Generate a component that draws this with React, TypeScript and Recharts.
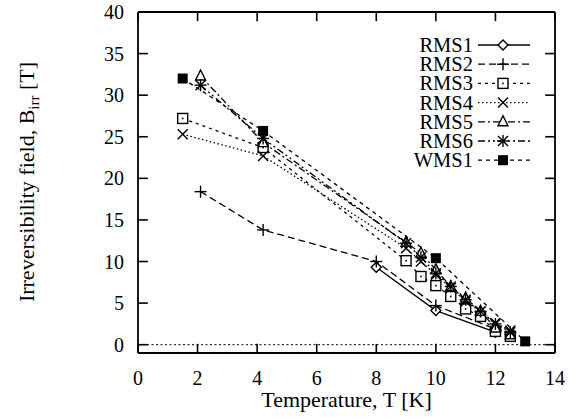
import React from 'react'
import {
  LineChart,
  Line,
  XAxis,
  YAxis,
  ReferenceLine,
  Legend
} from 'recharts'

// temperature (K) / irreversibility field (T)
const rms1T = [8, 10, 12]
const rms1B = [9.3, 4.1, 1.5]
const rms2T = [2.1, 4.2, 8, 10, 12]
const rms2B = [18.4, 13.8, 10.0, 4.7, 1.9]
const rms3T = [1.5, 4.2, 9, 9.5, 10, 10.5, 11, 11.5, 12, 12.5]
const rms3B = [27.2, 23.7, 10.1, 8.2, 7.1, 5.8, 4.3, 3.4, 1.6, 1.0]
const rms4T = [1.5, 4.2, 9, 9.5, 10, 10.5, 11, 11.5, 12, 12.5]
const rms4B = [25.3, 22.7, 11.6, 10.0, 8.4, 6.8, 5.2, 4.0, 2.6, 1.7]
const rms5T = [2.1, 4.2, 9, 9.5, 10, 10.5, 11, 11.5, 12, 12.5]
const rms5B = [32.3, 24.3, 12.3, 11.0, 9.0, 7.0, 5.6, 4.0, 2.0, 1.2]
const rms6T = [2.1, 4.2, 9, 9.5, 10, 10.5, 11, 11.5, 12, 12.5]
const rms6B = [31.2, 24.8, 12.2, 10.5, 8.6, 7.0, 5.4, 4.0, 2.5, 1.5]
const wms1T = [1.5, 4.2, 10, 13]
const wms1B = [32.0, 25.7, 10.4, 0.4]

const xTicks = [0, 2, 4, 6, 8, 10, 12, 14]
const yTicks = [0, 5, 10, 15, 20, 25, 30, 35, 40]

const FONT = '"Liberation Serif", "Times New Roman", serif'

type Shape = 'diamond' | 'plus' | 'square' | 'cross' | 'triangle' | 'star' | 'filled'

const zip = (ts: number[], bs: number[]) => ts.map((t, i) => ({ t, b: bs[i] }))

const series: { name: string; data: { t: number; b: number }[]; dash?: string; shape: Shape }[] = [
  { name: 'RMS1', data: zip(rms1T, rms1B), shape: 'diamond' },
  { name: 'RMS2', data: zip(rms2T, rms2B), dash: '7 4', shape: 'plus' },
  { name: 'RMS3', data: zip(rms3T, rms3B), dash: '3 4', shape: 'square' },
  { name: 'RMS4', data: zip(rms4T, rms4B), dash: '1.5 2.5', shape: 'cross' },
  { name: 'RMS5', data: zip(rms5T, rms5B), dash: '7 3 2 3', shape: 'triangle' },
  { name: 'RMS6', data: zip(rms6T, rms6B), dash: '7 3 2 3 2 3', shape: 'star' },
  { name: 'WMS1', data: zip(wms1T, wms1B), dash: '4 4', shape: 'filled' }
]

function Marker({ shape, cx, cy }: { shape: Shape; cx: number; cy: number }) {
  const s = 5
  const st = { stroke: '#000', strokeWidth: 1.4 }
  switch (shape) {
    case 'diamond':
      return <polygon points={`${cx},${cy - s} ${cx + s},${cy} ${cx},${cy + s} ${cx - s},${cy}`} fill="#fff" {...st} />
    case 'plus':
      return (
        <g {...st}>
          <line x1={cx - s - 1} y1={cy} x2={cx + s + 1} y2={cy} />
          <line x1={cx} y1={cy - s - 1} x2={cx} y2={cy + s + 1} />
        </g>
      )
    case 'square':
      return (
        <g>
          <rect x={cx - s} y={cy - s} width={2 * s} height={2 * s} fill="#fff" {...st} />
          <rect x={cx - 0.8} y={cy - 0.8} width={1.6} height={1.6} fill="#000" />
        </g>
      )
    case 'cross':
      return (
        <g {...st}>
          <line x1={cx - s} y1={cy - s} x2={cx + s} y2={cy + s} />
          <line x1={cx - s} y1={cy + s} x2={cx + s} y2={cy - s} />
        </g>
      )
    case 'triangle':
      return <polygon points={`${cx},${cy - s - 1} ${cx + s},${cy + s - 1} ${cx - s},${cy + s - 1}`} fill="#fff" {...st} />
    case 'star':
      return (
        <g {...st}>
          <line x1={cx - s - 1} y1={cy} x2={cx + s + 1} y2={cy} />
          <line x1={cx} y1={cy - s - 1} x2={cx} y2={cy + s + 1} />
          <line x1={cx - s} y1={cy - s} x2={cx + s} y2={cy + s} />
          <line x1={cx - s} y1={cy + s} x2={cx + s} y2={cy - s} />
        </g>
      )
    default:
      return <rect x={cx - s} y={cy - s} width={2 * s} height={2 * s} fill="#000" />
  }
}

function LegendBox() {
  return (
    <svg width={180} height={150}>
      {series.map((s, i) => {
        const y = 15 + i * 19.2
        return (
          <g key={s.name}>
            <text x={93} y={y + 7} textAnchor="end" fontFamily={FONT} fontSize={20.5} fill="#000">
              {s.name}
            </text>
            <line x1={98} y1={y} x2={150} y2={y} stroke="#000" strokeWidth={1.3} strokeDasharray={s.dash} />
            <Marker shape={s.shape} cx={123} cy={y} />
          </g>
        )
      })}
    </svg>
  )
}

export default function App() {
  const tickStyle = { fontSize: 20, fontFamily: FONT, fill: '#000' }
  return (
    <div style={{ position: 'absolute', left: 0, top: 0, background: '#fff' }}>
      <LineChart width={572} height={418} margin={{ top: 12, right: 17, left: 0, bottom: 0 }}>
        <XAxis
          dataKey="t"
          type="number"
          domain={[0, 14]}
          ticks={xTicks}
          height={65}
          tickLine={false}
          tickMargin={12}
          axisLine={{ stroke: '#000', strokeWidth: 1.8 }}
          tick={tickStyle}
          label={{
            value: 'Temperature, T [K]',
            position: 'insideBottom',
            offset: 11,
            style: { fontSize: 22, fontFamily: FONT, fill: '#000' }
          }}
        />
        <YAxis
          type="number"
          domain={[-1, 40]}
          ticks={yTicks}
          width={138}
          tickLine={false}
          tickMargin={8}
          axisLine={{ stroke: '#000', strokeWidth: 1.8 }}
          tick={tickStyle}
          label={{
            content: () => (
              <text
                x={34}
                y={182}
                transform="rotate(-90, 34, 182)"
                textAnchor="middle"
                fontFamily={FONT}
                fontSize={22}
                fill="#000"
              >
                Irreversibility field, B
                <tspan fontSize={15} dy={5}>irr</tspan>
                <tspan dy={-5}> [T]</tspan>
              </text>
            )
          }}
        />
        <ReferenceLine y={0} stroke="#000" strokeWidth={1} strokeDasharray="2 2.5" />
        <ReferenceLine y={40} stroke="#000" strokeWidth={1.8} />
        <ReferenceLine x={14} stroke="#000" strokeWidth={1.8} />
        {xTicks.map(t => (
          <ReferenceLine key={`bt${t}`} segment={[{ x: t, y: -1 }, { x: t, y: 0.1 }]} stroke="#000" strokeWidth={1.6} />
        ))}
        {xTicks.map(t => (
          <ReferenceLine key={`tt${t}`} segment={[{ x: t, y: 40 }, { x: t, y: 38.9 }]} stroke="#000" strokeWidth={1.6} />
        ))}
        {yTicks.map(b => (
          <ReferenceLine key={`lt${b}`} segment={[{ x: 0, y: b }, { x: 0.33, y: b }]} stroke="#000" strokeWidth={1.6} />
        ))}
        {yTicks.map(b => (
          <ReferenceLine key={`rt${b}`} segment={[{ x: 14, y: b }, { x: 13.67, y: b }]} stroke="#000" strokeWidth={1.6} />
        ))}
        {series.map(s => (
          <Line
            key={s.name}
            data={s.data}
            dataKey="b"
            name={s.name}
            type="linear"
            stroke="#000"
            strokeWidth={1.3}
            strokeDasharray={s.dash}
            isAnimationActive={false}
            dot={(p: any) => <Marker key={`${s.name}-${p.index}`} shape={s.shape} cx={p.cx} cy={p.cy} />}
          />
        ))}
        <Legend
          layout="vertical"
          align="center"
          verticalAlign="middle"
          wrapperStyle={{ left: 380, top: 30, width: 180, height: 150 }}
          content={() => <LegendBox />}
        />
      </LineChart>
    </div>
  )
}
